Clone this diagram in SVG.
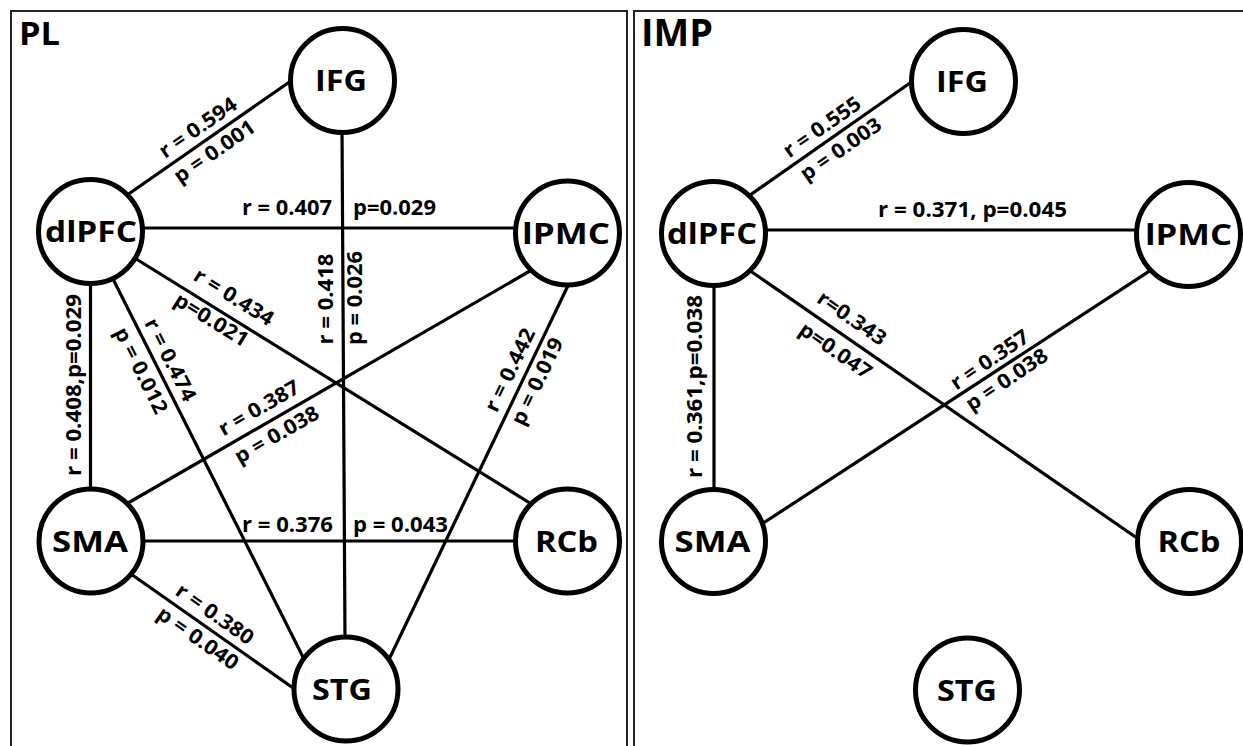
<svg xmlns="http://www.w3.org/2000/svg" width="1243" height="746" viewBox="0 0 1243 746">
  <style>
    .frame { fill: none; stroke: #222; stroke-width: 2; }
    .edge { stroke: #000; stroke-width: 3.2; fill: none; stroke-linecap: butt; }
    .node circle { fill: #fff; stroke: #000; stroke-width: 5; }
    .node text { font-family: "Open Sans", "Liberation Sans", Arial, sans-serif; font-weight: bold; font-size: 29px; text-anchor: middle; fill: #000; }
    .lbl { font-family: "Open Sans", "Liberation Sans", Arial, sans-serif; font-weight: bold; font-size: 20.5px; text-anchor: middle; fill: #000; }
    .lbl.start { text-anchor: start; }
    .title { font-family: "Open Sans", "Liberation Sans", Arial, sans-serif; font-weight: bold; fill: #000; }
  </style>
  <rect width="1243" height="746" fill="#fff"/>

  <!-- panel frames -->
  <g id="frames">
    <path class="frame" d="M11,746 V11 H627 V746"/>
    <path class="frame" d="M634,746 V11 H1243"/>
    <text class="title" x="19" y="45" font-size="33" textLength="41" lengthAdjust="spacingAndGlyphs">PL</text>
    <text class="title" x="641" y="46" font-size="38" textLength="72" lengthAdjust="spacingAndGlyphs">IMP</text>
  </g>

  <!-- connectors -->
  <g id="connectors">
    <!-- PL -->
    <line class="edge" x1="125" y1="196.5" x2="293" y2="79.5"/>
    <line class="edge" x1="140" y1="228" x2="520" y2="228"/>
    <line class="edge" x1="342" y1="128" x2="345" y2="640"/>
    <line class="edge" x1="90.5" y1="280" x2="90.5" y2="490"/>
    <line class="edge" x1="133" y1="257" x2="533" y2="505"/>
    <line class="edge" x1="112.5" y1="278" x2="304.5" y2="660"/>
    <line class="edge" x1="125.5" y1="504.5" x2="532.5" y2="269.5"/>
    <line class="edge" x1="140" y1="541" x2="518" y2="541"/>
    <line class="edge" x1="131" y1="574" x2="296" y2="690"/>
    <line class="edge" x1="569" y1="283.5" x2="388" y2="661.5"/>
    <!-- IMP -->
    <line class="edge" x1="748" y1="196.5" x2="915" y2="79.5"/>
    <line class="edge" x1="760" y1="230" x2="1140" y2="230"/>
    <line class="edge" x1="714" y1="282" x2="714" y2="492"/>
    <line class="edge" x1="749" y1="270" x2="1142" y2="541.5"/>
    <line class="edge" x1="760.8" y1="524.7" x2="1152" y2="269.3"/>
  </g>

  <!-- connector labels -->
  <g id="edge-labels">
    <!-- PL -->
    <g transform="translate(206.4,139.9) rotate(-34.8)">
      <text class="lbl" y="-8" textLength="90" lengthAdjust="spacingAndGlyphs">r = 0.594</text>
      <text class="lbl" y="21" textLength="94" lengthAdjust="spacingAndGlyphs">p = 0.001</text>
    </g>
    <text class="lbl start" x="242" y="215" textLength="90" lengthAdjust="spacingAndGlyphs">r = 0.407</text>
    <text class="lbl start" x="353" y="215" textLength="83" lengthAdjust="spacingAndGlyphs">p=0.029</text>
    <text class="lbl" transform="translate(333,299) rotate(-90)" textLength="91" lengthAdjust="spacingAndGlyphs">r = 0.418</text>
    <text class="lbl" transform="translate(362,298) rotate(-90)" textLength="94" lengthAdjust="spacingAndGlyphs">p = 0.026</text>
    <text class="lbl" transform="translate(81,385) rotate(-90)" textLength="182" lengthAdjust="spacingAndGlyphs">r = 0.408,p=0.029</text>
    <text class="lbl" transform="translate(223.9,313.2) rotate(31.8)" y="-12" textLength="90" lengthAdjust="spacingAndGlyphs">r = 0.434</text>
    <text class="lbl" transform="translate(217.9,309.5) rotate(31.8)" y="19" textLength="83" lengthAdjust="spacingAndGlyphs">p=0.021</text>
    <text class="lbl" transform="translate(157,366.5) rotate(63.3)" y="-8" textLength="90" lengthAdjust="spacingAndGlyphs">r = 0.474</text>
    <text class="lbl" transform="translate(155.4,363.4) rotate(63.3)" y="23" textLength="94" lengthAdjust="spacingAndGlyphs">p = 0.012</text>
    <text class="lbl" transform="translate(267.4,422.6) rotate(-30)" y="-10" textLength="90" lengthAdjust="spacingAndGlyphs">r = 0.387</text>
    <text class="lbl" transform="translate(269.2,421.6) rotate(-30)" y="22" textLength="94" lengthAdjust="spacingAndGlyphs">p = 0.038</text>
    <text class="lbl" transform="translate(524.4,376.9) rotate(-64.4)" y="-9" textLength="90" lengthAdjust="spacingAndGlyphs">r = 0.442</text>
    <text class="lbl" transform="translate(525.1,375.4) rotate(-64.4)" y="20.5" textLength="94" lengthAdjust="spacingAndGlyphs">p = 0.019</text>
    <text class="lbl start" x="242" y="532" textLength="91" lengthAdjust="spacingAndGlyphs">r = 0.376</text>
    <text class="lbl start" x="353" y="532" textLength="95" lengthAdjust="spacingAndGlyphs">p = 0.043</text>
    <g transform="translate(206.1,626.8) rotate(35)">
      <text class="lbl" y="-8.5" textLength="90" lengthAdjust="spacingAndGlyphs">r = 0.380</text>
      <text class="lbl" y="21" textLength="94" lengthAdjust="spacingAndGlyphs">p = 0.040</text>
    </g>
    <!-- IMP -->
    <text class="lbl" transform="translate(830.3,138.8) rotate(-35)" y="-7.5" textLength="90" lengthAdjust="spacingAndGlyphs">r = 0.555</text>
    <text class="lbl" transform="translate(832.4,137.3) rotate(-35)" y="21.5" textLength="94" lengthAdjust="spacingAndGlyphs">p = 0.003</text>
    <text class="lbl start" x="878" y="217" textLength="189" lengthAdjust="spacingAndGlyphs">r = 0.371, p=0.045</text>
    <text class="lbl" transform="translate(701.5,386.5) rotate(-90)" textLength="183" lengthAdjust="spacingAndGlyphs">r = 0.361,p=0.038</text>
    <text class="lbl" transform="translate(841.1,333.8) rotate(34.6)" y="-12" textLength="79" lengthAdjust="spacingAndGlyphs">r=0.343</text>
    <text class="lbl" transform="translate(845.2,336.6) rotate(34.6)" y="24" textLength="83" lengthAdjust="spacingAndGlyphs">p=0.047</text>
    <text class="lbl" transform="translate(996.8,370.5) rotate(-34)" y="-6" textLength="90" lengthAdjust="spacingAndGlyphs">r = 0.357</text>
    <text class="lbl" transform="translate(999.4,368.8) rotate(-34)" y="20" textLength="94" lengthAdjust="spacingAndGlyphs">p = 0.038</text>
  </g>

  <!-- PL nodes -->
  <g id="pl-IFG" class="node"><circle cx="342.5" cy="80.5" r="52"/><text x="341" y="91" textLength="52" lengthAdjust="spacingAndGlyphs">IFG</text></g>
  <g id="pl-dlPFC" class="node"><circle cx="90.5" cy="231.5" r="52"/><text x="91" y="242" textLength="92" lengthAdjust="spacingAndGlyphs">dlPFC</text></g>
  <g id="pl-lPMC" class="node"><circle cx="567.5" cy="233" r="52"/><text x="566" y="243.5" textLength="88" lengthAdjust="spacingAndGlyphs">lPMC</text></g>
  <g id="pl-SMA" class="node"><circle cx="91" cy="541" r="52"/><text x="90" y="551.5" textLength="76" lengthAdjust="spacingAndGlyphs">SMA</text></g>
  <g id="pl-RCb" class="node"><circle cx="567.5" cy="541" r="52"/><text x="566.5" y="551.5" textLength="63" lengthAdjust="spacingAndGlyphs">RCb</text></g>
  <g id="pl-STG" class="node"><circle cx="346" cy="689" r="52"/><text x="342" y="699.5" textLength="60" lengthAdjust="spacingAndGlyphs">STG</text></g>

  <!-- IMP nodes -->
  <g id="imp-IFG" class="node"><circle cx="963.5" cy="81.5" r="52"/><text x="962" y="92" textLength="52" lengthAdjust="spacingAndGlyphs">IFG</text></g>
  <g id="imp-dlPFC" class="node"><circle cx="713.5" cy="233.5" r="52"/><text x="712" y="244" textLength="90" lengthAdjust="spacingAndGlyphs">dlPFC</text></g>
  <g id="imp-lPMC" class="node"><circle cx="1188.5" cy="234.5" r="52"/><text x="1188.5" y="245" textLength="87" lengthAdjust="spacingAndGlyphs">lPMC</text></g>
  <g id="imp-SMA" class="node"><circle cx="713.5" cy="541.5" r="52"/><text x="712.5" y="552" textLength="76" lengthAdjust="spacingAndGlyphs">SMA</text></g>
  <g id="imp-RCb" class="node"><circle cx="1189.5" cy="541.5" r="52"/><text x="1189" y="552" textLength="63" lengthAdjust="spacingAndGlyphs">RCb</text></g>
  <g id="imp-STG" class="node"><circle cx="967.5" cy="690" r="52"/><text x="967" y="700.5" textLength="60" lengthAdjust="spacingAndGlyphs">STG</text></g>
</svg>
